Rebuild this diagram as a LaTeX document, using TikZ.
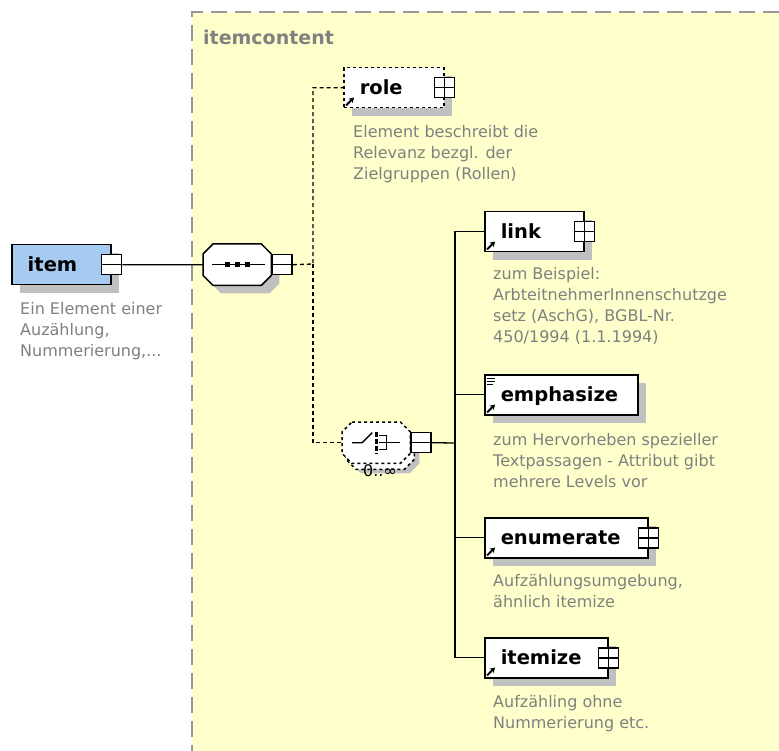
\documentclass[tikz,border=0pt]{standalone}
\usepackage{fontspec}
\setmainfont{DejaVu Sans}
\usetikzlibrary{arrows.meta,shadows}

\definecolor{groupfill}{RGB}{255,255,204}
\definecolor{groupline}{RGB}{150,150,150}
\definecolor{rootfill}{RGB}{166,202,240}
\definecolor{shadowgray}{RGB}{192,192,192}
\definecolor{docgray}{RGB}{128,128,128}
\newcommand\labelfont{\fontsize{19.5}{22}\selectfont\bfseries}
\newcommand\docfont{\fontsize{16}{21}\selectfont}
% octagon round a compositor node, #2 = extra shift
\newcommand\octpath[2]{([shift={(#2)},xshift=10pt]#1.north west) -- ([shift={(#2)},xshift=-10pt]#1.north east)
  -- ([shift={(#2)},yshift=-10pt]#1.north east) -- ([shift={(#2)},yshift=10pt]#1.south east)
  -- ([shift={(#2)},xshift=-10pt]#1.south east) -- ([shift={(#2)},xshift=10pt]#1.south west)
  -- ([shift={(#2)},yshift=10pt]#1.south west) -- ([shift={(#2)},yshift=-10pt]#1.north west) -- cycle}

\tikzset{
  elshadow/.style={drop shadow={shadow xshift=8pt, shadow yshift=-8pt, fill=shadowgray, opacity=1}},
  element/.style={draw, line width=1.5pt, fill=white, elshadow, anchor=north west,
    inner sep=0pt, minimum height=40pt, text width=#1, align=left,
    text height=15pt, text depth=1pt, font=\labelfont},
  compositor/.style={anchor=north west, inner sep=0pt, minimum width=68pt, minimum height=41pt},
  compline/.style={line width=1.5pt, fill=white},
  pmbox/.style={draw, line width=1.5pt, fill=white, minimum size=20pt, inner sep=0pt},
  plusbox/.style={pmbox, path picture={\draw[line width=1.5pt]
      (path picture bounding box.north) -- (path picture bounding box.south)
      (path picture bounding box.west) -- (path picture bounding box.east);}},
  minusbox/.style={pmbox, path picture={\draw[line width=1.5pt]
      (path picture bounding box.west) -- (path picture bounding box.east);}},
  doc/.style={anchor=north west, inner sep=0pt, align=left, font=\docfont, text=docgray},
  conn/.style={line width=1.3pt},
  optconn/.style={conn, dash pattern=on 4pt off 3pt},
  refarrow/.style={line width=2pt, -{Stealth[length=5pt,width=6pt]}},
  groupborder/.style={groupline, line width=2pt, dash pattern=on 16pt off 8pt},
}

\begin{document}
\begin{tikzpicture}[x=1pt, y=-1pt]
\useasboundingbox (0,0) rectangle (779,751);

% group itemcontent
\fill[groupfill] (192,12) rectangle (779,751);
\draw[groupborder] (779,12) -- (192,12) -- (192,751);
\node[anchor=base west, inner sep=0pt, font=\fontsize{19}{22}\selectfont\bfseries, text=docgray]
  (grp) at (203,45) {itemcontent};

% root element
\node[element=99pt, fill=rootfill] (item) at (11,244) {\hspace*{16pt}item};
\node[minusbox] (item-pm) at (item.east) {};
\node[doc] (item-doc) at ([shift={(9pt,-17pt)}]item.south west)
  {Ein Element einer\\Auzählung,\\Nummerierung,...};

% sequence
\node[compositor] (seq) at (203,244) {};
\fill[shadowgray] \octpath{seq}{8pt,-8pt};
\draw[compline] \octpath{seq}{0pt,0pt};
\draw[conn] ([xshift=-25pt]seq.center) -- ([xshift=28pt]seq.center);
\foreach \dx in {-10,0,10}
  \fill ([xshift=\dx pt]seq.center) +(-2.5pt,-2.5pt) rectangle +(2.5pt,2.5pt);
\node[minusbox, anchor=west] (seq-pm) at (seq.east) {};

% role
\node[element=100pt, dashed] (role) at (343,67) {\hspace*{16pt}role};
\node[plusbox] (role-pm) at (role.east) {};
\draw[refarrow] ([shift={(3pt,3pt)}]role.south west) -- ++(8pt,8pt);
\node[doc] (role-doc) at ([shift={(10pt,-17pt)}]role.south west)
  {Element beschreibt die\\Relevanz bezgl. der\\Zielgruppen (Rollen)};

% choice
\node[compositor] (choice) at (342,422) {};
\fill[shadowgray] \octpath{choice}{9pt,-10pt};
\draw[compline, dashed] \octpath{choice}{4pt,-6pt};
\draw[compline, dashed] \octpath{choice}{0pt,0pt};
\draw[conn] ([xshift=-24pt]choice.center) -- ++(10pt,0pt) -- ++(10pt,10pt);
\draw[line width=3pt, dash pattern=on 5pt off 2pt]
  ([yshift=11pt]choice.center) -- ([yshift=-11pt]choice.center);
\draw[conn] ([shift={(3pt,7pt)}]choice.center) -| ([shift={(10pt,-7pt)}]choice.center)
  -- ([shift={(3pt,-7pt)}]choice.center);
\draw[conn] ([xshift=3pt]choice.center) -- ([xshift=24pt]choice.center);
\node[minusbox, anchor=west] (choice-pm) at (choice.east) {};
\node[anchor=base, inner sep=0pt, font=\docfont] (choice-occ) at (380,476) {0..∞};

% children of choice
\node[element=99pt] (link) at (484,211) {\hspace*{16pt}link};
\node[plusbox] (link-pm) at (link.east) {};
\node[doc] (link-doc) at ([shift={(9pt,-15pt)}]link.south west)
  {zum Beispiel:\\ArbteitnehmerInnenschutzge\\setz (AschG), BGBL-Nr.\\450/1994 (1.1.1994)};

\node[element=153pt] (emphasize) at (484,374) {\hspace*{16pt}emphasize};
\foreach \dy/\len in {4/8,7/8,10/6}
  \draw[line width=1pt] ([shift={(3pt,-\dy pt)}]emphasize.north west) -- ++(\len pt,0pt);
\node[doc] (emphasize-doc) at ([shift={(9pt,-18pt)}]emphasize.south west)
  {zum Hervorheben spezieller\\Textpassagen - Attribut gibt\\mehrere Levels vor};

\node[element=163pt] (enumerate) at (484,517) {\hspace*{16pt}enumerate};
\node[plusbox] (enumerate-pm) at (enumerate.east) {};
\node[doc] (enumerate-doc) at ([shift={(9pt,-16pt)}]enumerate.south west)
  {Aufzählungsumgebung,\\ähnlich itemize};

\node[element=123pt] (itemize) at (484,637) {\hspace*{16pt}itemize};
\node[plusbox] (itemize-pm) at (itemize.east) {};
\node[doc] (itemize-doc) at ([shift={(9pt,-17pt)}]itemize.south west)
  {Aufzähling ohne\\Nummerierung etc.};

\foreach \el in {link,emphasize,enumerate,itemize}
  \draw[refarrow] ([shift={(3pt,3pt)}]\el.south west) -- ++(8pt,8pt);

% connectors
\coordinate (seqfork) at (313,264);
\coordinate (choicefork) at (455,443);
\draw[conn] (item-pm.east) -- (seq.west);
\draw[optconn] (seq-pm.east) -- (seqfork) |- (role.west);
\draw[optconn] (seqfork) |- (choice.west);
\draw[conn] (choice-pm.east) -- (choicefork);
\foreach \el in {link,emphasize,enumerate,itemize}
  \draw[conn] (choicefork) |- (\el.west);
\end{tikzpicture}
\end{document}
